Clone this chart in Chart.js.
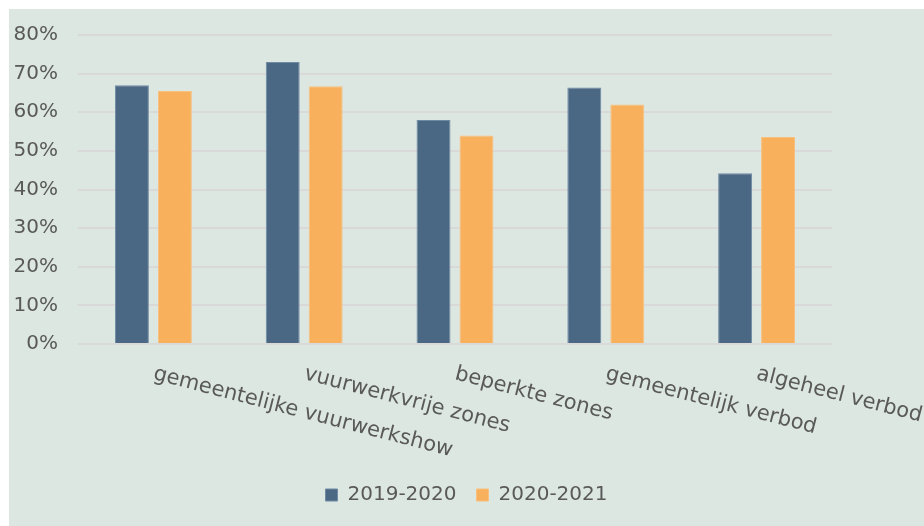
<!DOCTYPE html>
<html>
<head>
<meta charset="utf-8">
<script src="https://cdn.jsdelivr.net/npm/chart.js@4/dist/chart.umd.min.js"></script>
<style>
  html, body { margin: 0; padding: 0; background: #ffffff; }
  #wrap { position: absolute; left: 9px; top: 9px; width: 915px; height: 517px; background: #dce7e1; }
  canvas { display: block; }
</style>
</head>
<body>
<div id="wrap"><canvas id="c" width="915" height="517"></canvas></div>
<script>
const categories = ["gemeentelijke vuurwerkshow", "vuurwerkvrije zones", "beperkte zones", "gemeentelijk verbod", "algeheel verbod"];
const series2019 = [67.0, 73.0, 58.0, 66.4, 44.2];
const series2020 = [65.5, 66.7, 54.0, 62.0, 53.6];
const seriesNames = ["2019-2020", "2020-2021"];
const yTicks = [0, 10, 20, 30, 40, 50, 60, 70, 80];

const FONT = "'DejaVu Sans', sans-serif";
const TEXT = "#595959";

const rotatedLabels = {
  id: 'rotatedLabels',
  afterDraw(chart) {
    const xs = chart.scales.x;
    const ctx = chart.ctx;
    const area = chart.chartArea;
    ctx.save();
    ctx.font = "21px " + FONT;
    ctx.fillStyle = TEXT;
    ctx.textAlign = 'left';
    ctx.textBaseline = 'alphabetic';
    categories.forEach((lab, i) => {
      const x = xs.getPixelForValue(i) - 1;
      const y = area.bottom + 35;
      ctx.save();
      ctx.translate(x, y);
      ctx.rotate(14.5 * Math.PI / 180);
      ctx.fillText(lab, 0, 0);
      ctx.restore();
    });
    ctx.restore();
  }
};

new Chart(document.getElementById('c'), {
  type: 'bar',
  data: {
    labels: categories,
    datasets: [
      { label: seriesNames[0], data: series2019, backgroundColor: '#4a6784', borderColor: '#6f8aa3', borderWidth: 1,
        categoryPercentage: 0.57, barPercentage: 0.79 },
      { label: seriesNames[1], data: series2020, backgroundColor: '#f8b05c', borderColor: '#f9bf7c', borderWidth: 1,
        categoryPercentage: 0.57, barPercentage: 0.79 }
    ]
  },
  options: {
    responsive: false,
    animation: false,
    layout: { padding: { left: 0, right: 0, top: 26, bottom: 11 } },
    plugins: {
      tooltip: { enabled: false },
      legend: {
        position: 'bottom',
        labels: {
          color: TEXT,
          font: { family: FONT, size: 20 },
          boxWidth: 12,
          boxHeight: 12,
          padding: 20
        }
      }
    },
    scales: {
      x: {
        grid: { display: false },
        border: { display: false },
        ticks: { display: false },
        afterFit: s => { s.height = 121; s.paddingLeft = 0; s.paddingRight = 0; }
      },
      y: {
        min: 0,
        max: 80,
        afterBuildTicks: s => { s.ticks = yTicks.map(v => ({ value: v })); },
        grid: { color: '#d9d9d9', lineWidth: 2, drawTicks: false },
        border: { display: false },
        ticks: {
          color: TEXT,
          font: { family: FONT, size: 20 },
          padding: 20,
          callback: v => v + '%'
        },
        afterFit: s => { s.width = 69; s.paddingTop = 0; s.paddingBottom = 0; }
      },
      yRight: {
        position: 'right',
        display: true,
        grid: { display: false, drawTicks: false },
        border: { display: false },
        ticks: { display: false },
        afterFit: s => { s.width = 92; s.paddingTop = 0; s.paddingBottom = 0; }
      }
    }
  },
  plugins: [rotatedLabels]
});
</script>
</body>
</html>
